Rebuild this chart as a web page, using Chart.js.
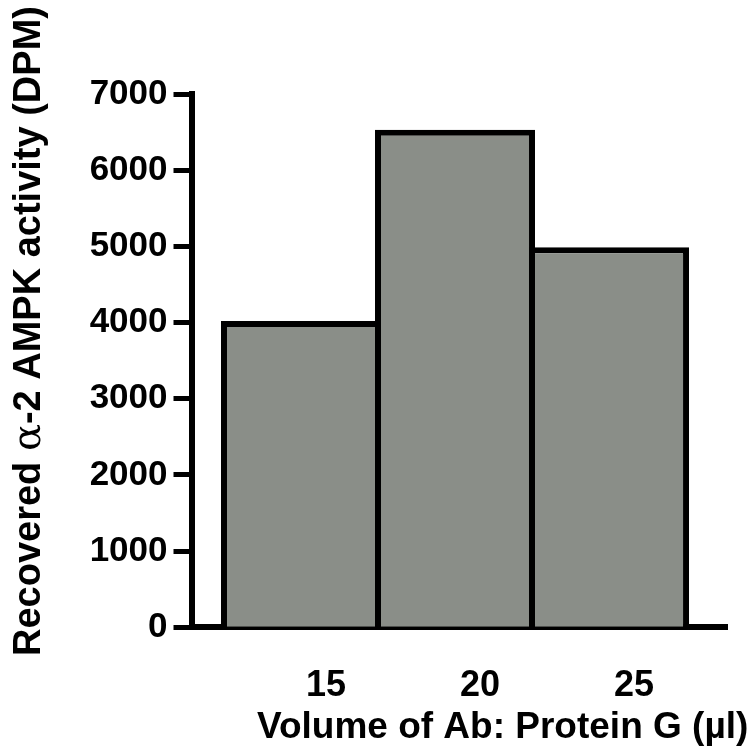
<!DOCTYPE html>
<html lang="en">
<head>
    <meta charset="utf-8">
    <title>AMPK activity</title>
    <script src="https://cdn.jsdelivr.net/npm/chart.js@4.4.0/dist/chart.umd.min.js"></script>
    <style>
        html, body { margin: 0; padding: 0; background: #fff; }
        #wrap { width: 755px; height: 755px; }
    </style>
</head>
<body>
    <div id="wrap"><canvas id="myChart" width="755" height="755"></canvas></div>
    <script>
        // data
        const volumes = [15, 20, 25];            // Ab: Protein G volume (µl)
        const activity = [4020, 6530, 4990];     // recovered activity (DPM)
        const yTicks = [0, 1000, 2000, 3000, 4000, 5000, 6000, 7000];

        const xTitle = "Volume of Ab: Protein G (µl)";
        const yTitleParts = ["Recovered ", "α", "-2 AMPK activity (DPM)"];

        const FONT = '"Liberation Sans", Arial, Helvetica, sans-serif';

        // axis titles sit off-centre in the original, so draw them by hand
        const axisTitles = {
            id: 'axisTitles',
            afterDraw(chart) {
                const ctx = chart.ctx;
                ctx.save();
                ctx.fillStyle = '#000';
                ctx.textBaseline = 'alphabetic';
                ctx.textAlign = 'left';
                ctx.font = 'bold 37px ' + FONT;
                ctx.fillText(xTitle, 257, 738);

                ctx.translate(40, 656);
                ctx.rotate(-Math.PI / 2);
                let x = 0;
                yTitleParts.forEach((part, i) => {
                    ctx.font = (i === 1 ? 'normal 40px "DejaVu Serif", serif' : 'bold 38px ' + FONT);
                    ctx.fillText(part, x, 0);
                    x += ctx.measureText(part).width;
                });
                ctx.restore();
            }
        };

        new Chart(document.getElementById('myChart'), {
            type: 'bar',
            data: {
                datasets: [{
                    data: volumes.map((v, i) => ({ x: v, y: activity[i] })),
                    backgroundColor: '#8a8e88',
                    borderColor: '#000',
                    borderWidth: 6,
                    categoryPercentage: 1,
                    barPercentage: 1.039
                }]
            },
            options: {
                responsive: false,
                animation: false,
                events: [],
                layout: { padding: { left: 80, top: 94, right: 28, bottom: 0 } },
                plugins: { legend: { display: false }, tooltip: { enabled: false } },
                scales: {
                    x: {
                        type: 'linear',
                        offset: false,
                        min: 11.445,
                        max: 28.83,
                        afterBuildTicks: (scale) => { scale.ticks = volumes.map(v => ({ value: v })); },
                        afterFit: (scale) => { scale.height = 127.7; },
                        grid: { display: false },
                        border: { display: true, color: '#000', width: 6 },
                        ticks: {
                            color: '#000',
                            font: { family: FONT, size: 36, weight: 'bold' },
                            padding: 29,
                            labelOffset: 25,
                            maxRotation: 0,
                            autoSkip: false,
                            callback: (v) => String(v)
                        }
                    },
                    y: {
                        min: 0,
                        max: 7000,
                        afterBuildTicks: (scale) => { scale.ticks = yTicks.map(v => ({ value: v })); },
                        afterFit: (scale) => { scale.width = 111.5; },
                        grid: {
                            drawOnChartArea: false,
                            drawTicks: true,
                            tickLength: 18,
                            tickWidth: 5,
                            tickColor: '#000'
                        },
                        border: { display: true, color: '#000', width: 6 },
                        ticks: {
                            color: '#000',
                            font: { family: FONT, size: 35, weight: 'bold' },
                            padding: 6,
                            callback: (v) => String(v)
                        }
                    }
                }
            },
            plugins: [axisTitles]
        });
    </script>
</body>
</html>
